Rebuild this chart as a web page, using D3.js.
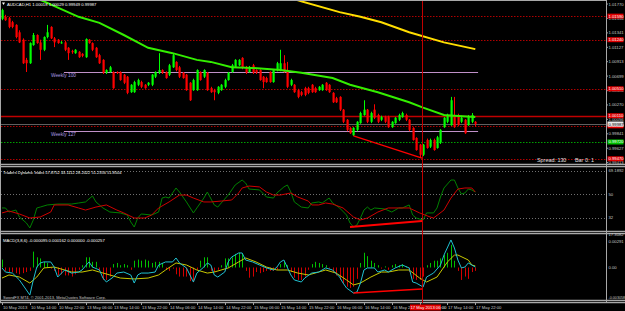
<!DOCTYPE html>
<html>
<head>
<meta charset="utf-8">
<script src="https://cdnjs.cloudflare.com/ajax/libs/d3/7.8.5/d3.min.js"></script>
<style>
  html, body { margin: 0; padding: 0; background: #000; }
  svg { display: block; }
  text { font-family: "Liberation Sans", Arial, sans-serif; }
</style>
</head>
<body>
<div id="chart"></div>
<script>
// ---- data (AUDCAD H1) ----
const timeLabels = ['10 May 2013', '10 May 14:00', '10 May 22:00', '13 May 06:00', '13 May 14:00', '13 May 22:00',
  '14 May 06:00', '14 May 14:00', '14 May 22:00', '15 May 06:00', '15 May 14:00', '15 May 22:00',
  '16 May 06:00', '16 May 14:00', '16 May 22:00', '17 May 06:00', '17 May 14:00', '17 May 22:00'];

const open = [1.0155, 1.0158, 1.0156, 1.0150, 1.0146, 1.0135, 1.0124, 1.0094, 1.0089, 1.0116,
  1.0131, 1.0120, 1.0109, 1.0128, 1.0143, 1.0126, 1.0124, 1.0119, 1.0120, 1.0112,
  1.0107, 1.0104, 1.0106, 1.0103, 1.0098, 1.0124, 1.0119, 1.0112, 1.0101, 1.0094,
  1.0075, 1.0076, 1.0076, 1.0076, 1.0076, 1.0072, 1.0069, 1.0046, 1.0046, 1.0057,
  1.0061, 1.0057, 1.0057, 1.0057, 1.0069, 1.0075, 1.0079, 1.0076, 1.0072, 1.0083,
  1.0091, 1.0083, 1.0075, 1.0072, 1.0060, 1.0049, 1.0049, 1.0076, 1.0069, 1.0075,
  1.0052, 1.0049, 1.0045, 1.0049, 1.0054, 1.0064, 1.0076, 1.0083, 1.0086, 1.0097,
  1.0083, 1.0076, 1.0086, 1.0079, 1.0079, 1.0069, 1.0067, 1.0076, 1.0061, 1.0079,
  1.0079, 1.0089, 1.0079, 1.0057, 1.0057, 1.0049, 1.0046, 1.0052, 1.0052, 1.0057,
  1.0052, 1.0049, 1.0049, 1.0060, 1.0057, 1.0045, 1.0037, 1.0039, 1.0020, 1.0005,
  0.9993, 0.9982, 0.9990, 1.0000, 1.0012, 1.0020, 1.0002, 1.0020, 1.0012, 1.0005,
  1.0009, 1.0009, 0.9994, 1.0000, 1.0005, 1.0009, 1.0012, 1.0005, 0.9993, 0.9978,
  0.9968, 0.9953, 0.9975, 0.9965, 0.9975, 0.9963, 0.9971, 0.9994, 1.0002, 0.9997,
  1.0012, 1.0012, 1.0002, 1.0005, 0.9997, 1.0002, 1.0002];
const high = [1.0170, 1.0161, 1.0158, 1.0152, 1.0147, 1.0138, 1.0126, 1.0097, 1.0120, 1.0134,
  1.0132, 1.0124, 1.0129, 1.0146, 1.0144, 1.0128, 1.0125, 1.0122, 1.0122, 1.0113,
  1.0109, 1.0110, 1.0107, 1.0104, 1.0126, 1.0125, 1.0120, 1.0113, 1.0103, 1.0095,
  1.0080, 1.0085, 1.0077, 1.0077, 1.0077, 1.0073, 1.0070, 1.0058, 1.0063, 1.0066,
  1.0063, 1.0058, 1.0061, 1.0073, 1.0077, 1.0104, 1.0080, 1.0077, 1.0088, 1.0104,
  1.0092, 1.0085, 1.0076, 1.0073, 1.0061, 1.0066, 1.0080, 1.0077, 1.0080, 1.0076,
  1.0054, 1.0051, 1.0055, 1.0058, 1.0066, 1.0076, 1.0088, 1.0095, 1.0095, 1.0098,
  1.0085, 1.0085, 1.0088, 1.0080, 1.0080, 1.0070, 1.0069, 1.0077, 1.0080, 1.0091,
  1.0109, 1.0101, 1.0091, 1.0066, 1.0058, 1.0051, 1.0048, 1.0054, 1.0054, 1.0058,
  1.0054, 1.0055, 1.0058, 1.0061, 1.0058, 1.0046, 1.0039, 1.0040, 1.0021, 1.0006,
  0.9994, 0.9994, 1.0003, 1.0017, 1.0034, 1.0021, 1.0017, 1.0028, 1.0014, 1.0011,
  1.0011, 1.0011, 1.0003, 1.0009, 1.0014, 1.0017, 1.0014, 1.0006, 0.9994, 0.9979,
  0.9969, 0.9969, 0.9977, 0.9977, 0.9977, 0.9981, 0.9991, 1.0009, 1.0014, 1.0039,
  1.0039, 1.0014, 1.0011, 1.0006, 1.0012, 1.0015, 1.0003];
const low = [1.0153, 1.0152, 1.0141, 1.0141, 1.0126, 1.0119, 1.0088, 1.0076, 1.0088, 1.0115,
  1.0118, 1.0094, 1.0107, 1.0126, 1.0125, 1.0113, 1.0118, 1.0118, 1.0107, 1.0094,
  1.0103, 1.0103, 1.0097, 1.0098, 1.0097, 1.0118, 1.0107, 1.0097, 1.0088, 1.0073,
  1.0073, 1.0075, 1.0051, 1.0073, 1.0063, 1.0058, 1.0043, 1.0045, 1.0045, 1.0055,
  1.0052, 1.0051, 1.0055, 1.0055, 1.0067, 1.0073, 1.0073, 1.0066, 1.0070, 1.0082,
  1.0077, 1.0067, 1.0066, 1.0048, 1.0033, 1.0048, 1.0048, 1.0063, 1.0067, 1.0048,
  1.0045, 1.0034, 1.0043, 1.0048, 1.0052, 1.0063, 1.0075, 1.0082, 1.0085, 1.0080,
  1.0073, 1.0075, 1.0073, 1.0073, 1.0063, 1.0052, 1.0060, 1.0060, 1.0060, 1.0077,
  1.0077, 1.0075, 1.0052, 1.0055, 1.0045, 1.0037, 1.0040, 1.0040, 1.0043, 1.0045,
  1.0045, 1.0048, 1.0048, 1.0048, 1.0045, 1.0030, 1.0030, 1.0018, 1.0000, 0.9988,
  0.9984, 0.9981, 0.9988, 0.9999, 1.0011, 1.0000, 1.0000, 1.0006, 1.0000, 1.0003,
  1.0000, 0.9993, 0.9993, 0.9999, 1.0003, 1.0008, 1.0003, 0.9988, 0.9974, 0.9959,
  0.9948, 0.9951, 0.9962, 0.9963, 0.9959, 0.9962, 0.9969, 0.9993, 1.0000, 0.9996,
  0.9993, 0.9996, 1.0000, 0.9984, 0.9996, 1.0000, 0.9995];
const close = [1.0168, 1.0153, 1.0143, 1.0143, 1.0128, 1.0120, 1.0089, 1.0089, 1.0119, 1.0131,
  1.0119, 1.0109, 1.0128, 1.0135, 1.0126, 1.0120, 1.0119, 1.0120, 1.0109, 1.0104,
  1.0106, 1.0109, 1.0098, 1.0100, 1.0125, 1.0119, 1.0109, 1.0098, 1.0089, 1.0075,
  1.0079, 1.0083, 1.0052, 1.0075, 1.0064, 1.0060, 1.0045, 1.0057, 1.0061, 1.0064,
  1.0054, 1.0052, 1.0060, 1.0072, 1.0076, 1.0079, 1.0075, 1.0067, 1.0086, 1.0101,
  1.0079, 1.0069, 1.0067, 1.0049, 1.0034, 1.0064, 1.0079, 1.0064, 1.0079, 1.0049,
  1.0046, 1.0046, 1.0054, 1.0057, 1.0064, 1.0075, 1.0086, 1.0094, 1.0094, 1.0082,
  1.0075, 1.0083, 1.0075, 1.0075, 1.0064, 1.0061, 1.0061, 1.0061, 1.0079, 1.0089,
  1.0089, 1.0076, 1.0054, 1.0064, 1.0046, 1.0039, 1.0042, 1.0042, 1.0045, 1.0046,
  1.0046, 1.0054, 1.0057, 1.0049, 1.0046, 1.0031, 1.0031, 1.0020, 1.0002, 0.9990,
  0.9985, 0.9993, 1.0002, 1.0015, 1.0020, 1.0002, 1.0015, 1.0008, 1.0002, 1.0009,
  1.0002, 0.9994, 1.0002, 1.0008, 1.0012, 1.0015, 1.0005, 0.9990, 0.9975, 0.9960,
  0.9953, 0.9968, 0.9963, 0.9975, 0.9960, 0.9979, 0.9990, 1.0008, 1.0012, 1.0034,
  0.9994, 0.9997, 1.0008, 0.9985, 1.0009, 1.0012, 0.9999];

// moving averages [bar, price]
const maGreen = [[8, 1.0189], [12, 1.0181], [22, 1.0158], [28, 1.0149], [35, 1.0131], [42, 1.0112],
  [49, 1.0104], [56, 1.0094], [60, 1.0091], [66, 1.0083], [72, 1.0082], [80, 1.0079], [86, 1.0075],
  [95, 1.0067], [100, 1.0057], [108, 1.0046], [117, 1.0031], [121, 1.0023], [127, 1.0012],
  [130, 1.0011], [136, 1.0009]];
const maYellow = [[83, 1.0186], [86, 1.0181], [97, 1.0165], [103, 1.0158], [109, 1.0150],
  [117, 1.0135], [127, 1.0120], [136, 1.0110]];

// horizontal levels
const redDotted = [1.0159, 1.0124, 1.0051, 0.9996, 0.9947];
const redSolid = [1.0011];
const greenDotted = [0.9972];
const weekly = [{ name: 'Weekly 100', price: 1.0076 }, { name: 'Weekly 127', price: 0.9988 }];
const bid = 0.99987;
const priceTicks = [1.01770, 1.01556, 1.01341, 1.01127, 1.00913, 1.00699, 1.00484, 1.00270,
  1.00056, 0.99841, 0.99627, 0.99413];

// Traders Dynamic Index [bar, value]
const tdiPrice = [[0, 39.3], [1, 39.3], [2, 36.2], [4, 37.7], [5, 32.4], [7, 27.8], [8, 24.0], [9, 30.1],
  [10, 39.3], [11, 40.0], [13, 41.6], [16, 42.3], [20, 42.3], [22, 43.1], [24, 43.9], [26, 48.5],
  [27, 43.9], [29, 39.3], [31, 36.2], [34, 35.5], [36, 33.9], [37, 28.6], [38, 24.7], [39, 31.6],
  [40, 34.7], [43, 33.9], [45, 36.2], [46, 46.9], [47, 47.7], [48, 46.9], [50, 54.6], [51, 51.5],
  [53, 43.9], [55, 35.5], [56, 39.3], [58, 46.9], [59, 51.5], [61, 41.6], [62, 40.0], [63, 43.1],
  [65, 49.2], [67, 56.9], [69, 60.7], [70, 58.4], [71, 53.8], [74, 53.1], [76, 47.7], [78, 46.9],
  [79, 50.8], [81, 55.4], [82, 56.9], [83, 51.5], [84, 43.9], [86, 40.0], [88, 39.3], [89, 43.1],
  [91, 43.9], [92, 43.1], [94, 46.9], [95, 43.1], [97, 39.3], [99, 33.9], [100, 27.8], [101, 24.7],
  [102, 26.3], [103, 31.6], [104, 37.7], [105, 40.0], [106, 37.7], [107, 39.3], [110, 38.5],
  [112, 36.2], [114, 39.3], [115, 39.3], [117, 41.6], [118, 33.9], [119, 31.6], [121, 30.1],
  [122, 35.5], [124, 35.5], [125, 39.3], [126, 47.7], [127, 54.6], [129, 60.7], [130, 60.7],
  [131, 54.6], [132, 50.0], [133, 50.8], [134, 53.8], [135, 53.1], [136, 51.5]];
const tdiSignal = [[0, 35.5], [2, 37.0], [5, 34.7], [8, 31.6], [11, 32.4], [14, 36.2], [15, 41.6],
  [19, 41.6], [22, 39.3], [24, 37.7], [27, 40.0], [30, 41.6], [33, 37.7], [35, 35.5], [38, 31.6],
  [41, 31.6], [43, 33.9], [45, 39.3], [48, 43.9], [51, 49.2], [53, 49.2], [55, 46.9], [58, 43.9],
  [60, 43.9], [63, 44.6], [66, 45.4], [68, 50.8], [69, 54.6], [71, 56.1], [74, 55.4], [76, 51.5],
  [78, 49.2], [80, 49.2], [83, 50.8], [85, 47.7], [88, 44.6], [89, 41.6], [91, 41.6], [93, 43.1],
  [95, 42.3], [98, 39.3], [101, 32.4], [103, 30.1], [105, 31.6], [108, 36.2], [111, 39.3],
  [114, 39.3], [117, 39.3], [120, 35.5], [123, 32.4], [124, 31.6], [127, 37.7], [129, 46.9],
  [131, 53.8], [133, 54.6], [135, 54.6], [136, 51.5]];
const tdiLevels = [68, 50, 32];
const tdiAxis = ['69.1892', '50', '32', '17.3082'];

// MACD(3,8,6)
const macdMain = [[0, -0.00004], [1, -0.00040], [3, -0.00049], [5, -0.00110], [7, -0.00198], [8, -0.00243],
  [9, -0.00110], [10, 0.00004], [11, 0.00040], [12, 0.00049], [14, 0.00049], [15, 0.00004],
  [16, -0.00084], [18, -0.00022], [20, -0.00049], [22, -0.00040], [23, -0.00022], [25, 0.00049],
  [26, 0.00004], [28, -0.00022], [29, -0.00093], [30, -0.00128], [32, -0.00084], [33, -0.00049],
  [35, -0.00040], [37, -0.00066], [38, -0.00137], [39, -0.00066], [40, -0.00049], [42, -0.00049],
  [44, -0.00040], [45, 0.00022], [47, 0.00049], [49, 0.00049], [50, 0.00084], [51, 0.00040],
  [53, -0.00004], [55, -0.00128], [56, -0.00049], [58, 0.00004], [59, 0.00040], [60, 0.00022],
  [61, -0.00066], [62, -0.00084], [64, -0.00040], [65, 0.00049], [66, 0.00093], [68, 0.00128],
  [69, 0.00128], [70, 0.00066], [72, 0.00049], [74, 0.00022], [76, -0.00004], [78, -0.00022],
  [79, 0.00004], [80, 0.00049], [81, 0.00066], [83, -0.00066], [84, -0.00110], [86, -0.00128],
  [87, -0.00093], [89, -0.00049], [91, -0.00040], [93, -0.00004], [95, -0.00022], [97, -0.00084],
  [98, -0.00137], [99, -0.00181], [101, -0.00225], [102, -0.00216], [103, -0.00137], [104, -0.00022],
  [105, -0.00004], [107, -0.00004], [108, -0.00040], [110, -0.00022], [111, -0.00040], [113, -0.00004],
  [115, 0.00022], [117, -0.00004], [118, -0.00128], [119, -0.00137], [121, -0.00172], [122, -0.00084],
  [124, -0.00049], [126, 0.00022], [127, 0.00110], [129, 0.00243], [130, 0.00172], [131, 0.00066],
  [132, -0.00004], [133, 0.00004], [134, 0.00040], [135, 0.00022], [136, 0.00004]];
const macdSignal = [[0, -0.00093], [2, -0.00066], [5, -0.00084], [8, -0.00137], [10, -0.00084],
  [12, -0.00004], [15, 0.00004], [18, -0.00022], [20, -0.00040], [23, -0.00040], [26, -0.00022],
  [28, -0.00040], [31, -0.00066], [34, -0.00093], [38, -0.00101], [42, -0.00093], [45, -0.00066],
  [47, -0.00022], [50, 0.00040], [53, 0.00022], [56, -0.00022], [59, -0.00049], [61, -0.00040],
  [65, -0.00004], [68, 0.00049], [70, 0.00084], [73, 0.00049], [76, 0.00004], [79, -0.00022],
  [82, -0.00022], [85, -0.00049], [88, -0.00066], [91, -0.00040], [93, -0.00022], [96, -0.00049],
  [99, -0.00110], [101, -0.00154], [103, -0.00137], [106, -0.00084], [109, -0.00040], [111, -0.00040],
  [114, -0.00022], [117, -0.00022], [120, -0.00093], [122, -0.00128], [125, -0.00084], [128, 0.00049],
  [130, 0.00110], [131, 0.00110], [134, 0.00066], [135, 0.00022], [136, 0.00013]];
const macdHist = [0.0007, -0.0003, -0.0004, -0.0004, -0.0005, -0.0006, -0.0005, -0.0004, -0.0003, 0.0014,
  0.0009, 0.0008, 0.0005, 0.0004, -0.0001, -0.0003, -0.0007, -0.0006, -0.0007, -0.0007,
  -0.0008, -0.0006, -0.0002, 0.0002, 0.0009, 0.0009, 0.0005, 0.0005, -0.0003, -0.0011,
  -0.0011, -0.0008, 0.0003, 0.0004, 0.0002, 0.0003, 0.0002, -0.0002, 0.0006, 0.0007,
  0.0006, 0.0007, 0.0006, 0.0004, 0.0005, 0.0005, 0.0004, -0.0002, -0.0003, -0.0001,
  -0.0006, -0.0008, -0.0008, -0.0008, -0.0012, -0.0013, -0.0002, 0.0006, 0.0009, 0.0009,
  -0.0003, -0.0004, -0.0002, 0.0002, 0.0008, 0.0008, 0.0009, 0.0012, 0.0013, 0.0012,
  -0.0003, -0.0009, -0.0008, -0.0004, -0.0005, -0.0004, -0.0003, -0.0003, -0.0003, -0.0002,
  0.0003, 0.0005, 0.0002, -0.0004, -0.0009, -0.0011, -0.0011, -0.0008, -0.0002, 0.0003,
  0.0005, 0.0004, 0.0003, 0.0002, -0.0001, -0.0004, -0.0007, -0.0011, -0.0014, -0.0017,
  -0.0018, -0.0017, -0.0010, 0.0004, 0.0013, 0.0010, 0.0006, 0.0004, 0.0002, -0.0001,
  0.0001, -0.0002, 0.0002, 0.0003, 0.0002, 0.0003, 0.0001, -0.0004, -0.0010, -0.0011,
  -0.0011, -0.0008, 0.0002, 0.0004, 0.0006, 0.0006, 0.0008, 0.0011, 0.0013, 0.0020,
  0.0006, -0.0003, -0.0011, -0.0008, -0.0010, -0.0004, -0.0003];
const macdAxis = ['0.00291', '0.00', '-0.003058'];

// divergence trendlines [bar, value]
const trendMain = [[101, 0.9981], [120.7, 0.9948]];
const trendTdi = [[100, 24.7], [120.7, 29.3]];
const trendMacd = [[101, -0.00225], [120.7, -0.0019]];
const cursorBar = 120.7;

// ---- layout ----
const W = 625, H = 311;
const PLOT_R = 606;
const FONT = 4.2;
const AXIS_TXT = '#c8c8c8';

const svg = d3.select('#chart').append('svg')
  .attr('width', W).attr('height', H)
  .style('background', '#000');

const x = d3.scaleLinear().domain([0, 136]).range([2, 475.3]);
const yMain = d3.scaleLinear().domain([0.9940, 1.0183]).range([163.5, 0]);
const yTdi = d3.scaleLinear().domain([32, 68]).range([217.5, 170.5]);
const yMacd = d3.scaleLinear().domain([-0.003, 0.003]).range([301.5, 233.5]);

// clip paths per panel
const defs = svg.append('defs');
[['clipMain', 1, 163.5], ['clipTdi', 168.5, 230.5], ['clipMacd', 233.5, 299.5]].forEach(([id, y0, y1]) => {
  defs.append('clipPath').attr('id', id)
    .append('rect').attr('x', 1).attr('y', y0).attr('width', PLOT_R - 1).attr('height', y1 - y0);
});

// frame
const frame = svg.append('g').attr('stroke', '#a8a8a8');
frame.append('line').attr('x1', 0.5).attr('x2', 0.5).attr('y1', 0).attr('y2', 302);
frame.append('line').attr('x1', 0).attr('x2', PLOT_R).attr('y1', 0.5).attr('y2', 0.5);
frame.append('line').attr('x1', PLOT_R + 0.5).attr('x2', PLOT_R + 0.5).attr('y1', 0).attr('y2', 302);
[164, 231, 300].forEach((yy) => {
  frame.append('line').attr('x1', 0).attr('x2', W).attr('y1', yy + 0.5).attr('y2', yy + 0.5)
    .attr('stroke-width', 1.4);
  frame.append('line').attr('x1', 0).attr('x2', W).attr('y1', yy + 2.6).attr('y2', yy + 2.6)
    .attr('stroke-width', 1.4);
});

// ---- main panel ----
const main = svg.append('g').attr('clip-path', 'url(#clipMain)');

function hline(g, yv, color, dash, width) {
  g.append('line')
    .attr('x1', 1).attr('x2', PLOT_R)
    .attr('y1', Math.round(yv) + 0.5).attr('y2', Math.round(yv) + 0.5)
    .attr('stroke', color).attr('stroke-width', width || 1)
    .attr('stroke-dasharray', dash || null);
}

redDotted.forEach(p => hline(main, yMain(p), '#b00000', '1.5,1.5'));
greenDotted.forEach(p => hline(main, yMain(p), '#00a000', '1.5,1.5'));
redSolid.forEach(p => hline(main, yMain(p), '#c00000', null, 1.3));
hline(main, yMain(bid), '#606060');

weekly.forEach((w) => {
  const yy = Math.round(yMain(w.price)) + 0.5;
  main.append('line').attr('x1', x(17.8)).attr('x2', x(136.8)).attr('y1', yy).attr('y2', yy)
    .attr('stroke', '#c090c8');
  main.append('text').attr('x', 51).attr('y', yy + 4.5)
    .attr('fill', '#a898e0').attr('font-size', FONT + 0.6).text(w.name);
});

// candles
const bars = d3.range(open.length).map(i => ({
  i, o: open[i], h: high[i], l: low[i], c: close[i],
}));
const candle = main.selectAll('g.candle').data(bars).enter().append('g');
candle.append('line')
  .attr('x1', d => Math.round(x(d.i)) + 0.5).attr('x2', d => Math.round(x(d.i)) + 0.5)
  .attr('y1', d => yMain(d.h)).attr('y2', d => yMain(d.l))
  .attr('stroke', d => (d.c >= d.o ? '#00ff00' : '#ff0000'));
candle.append('rect')
  .attr('x', d => Math.round(x(d.i)) - 0.5)
  .attr('width', 2.2)
  .attr('y', d => yMain(Math.max(d.o, d.c)))
  .attr('height', d => Math.max(1, yMain(Math.min(d.o, d.c)) - yMain(Math.max(d.o, d.c))))
  .attr('fill', d => (d.c >= d.o ? '#00ff00' : '#ff0000'));

const lineFn = ys => d3.line().x(d => x(d[0])).y(d => ys(d[1]));

main.append('path').datum(maGreen).attr('d', lineFn(yMain)).attr('fill', 'none')
  .attr('stroke', '#33ee00').attr('stroke-width', 2);
main.append('path').datum(maYellow).attr('d', lineFn(yMain)).attr('fill', 'none')
  .attr('stroke', '#ffdd00').attr('stroke-width', 2);
main.append('path').datum(trendMain).attr('d', lineFn(yMain)).attr('fill', 'none')
  .attr('stroke', '#ff0000').attr('stroke-width', 1.2);

main.append('path').attr('d', 'M2,2.5 L5,2.5 L3.5,5 Z').attr('fill', '#fff');
main.append('text').attr('x', 7).attr('y', 6).attr('fill', '#fff').attr('font-size', FONT)
  .text('AUDCAD,H1  1.00018 1.00029 0.99949 0.99987');
main.append('text').attr('x', 537).attr('y', 161.5).attr('fill', '#e0e0e0').attr('font-size', 5.4)
  .text('Spread: 130');
main.append('text').attr('x', 575).attr('y', 161.5).attr('fill', '#e0e0e0').attr('font-size', 5.4)
  .text('Bar 0:  1');

// ---- TDI panel ----
const tdi = svg.append('g').attr('clip-path', 'url(#clipTdi)');
tdiLevels.forEach(v => hline(tdi, yTdi(v), '#707070', '1,2'));
tdi.append('path').datum(tdiPrice).attr('d', lineFn(yTdi)).attr('fill', 'none')
  .attr('stroke', '#008000').attr('stroke-width', 1);
tdi.append('path').datum(tdiSignal).attr('d', lineFn(yTdi)).attr('fill', 'none')
  .attr('stroke', '#d00000').attr('stroke-width', 1);
tdi.append('path').datum(trendTdi).attr('d', lineFn(yTdi)).attr('fill', 'none')
  .attr('stroke', '#ff0000').attr('stroke-width', 2);
tdi.append('text').attr('x', 3).attr('y', 173.5).attr('fill', '#fff').attr('font-size', 4)
  .text('Traders Dynamic Index 57.8752 43.1112 28.2022 51.2356 51.8504');

// ---- MACD panel ----
const macd = svg.append('g').attr('clip-path', 'url(#clipMacd)');
macd.selectAll('line.hist').data(macdHist).enter().append('line')
  .attr('x1', (d, i) => Math.round(x(i)) + 0.5).attr('x2', (d, i) => Math.round(x(i)) + 0.5)
  .attr('y1', yMacd(0)).attr('y2', d => yMacd(d))
  .attr('stroke', d => (d >= 0 ? '#00c000' : '#d00000')).attr('stroke-width', 1);
macd.append('path').datum(macdSignal).attr('d', lineFn(yMacd)).attr('fill', 'none')
  .attr('stroke', '#c8c800').attr('stroke-width', 1);
macd.append('path').datum(macdMain).attr('d', lineFn(yMacd)).attr('fill', 'none')
  .attr('stroke', '#20c0d0').attr('stroke-width', 1);
macd.append('path').datum(trendMacd).attr('d', lineFn(yMacd)).attr('fill', 'none')
  .attr('stroke', '#ff0000').attr('stroke-width', 1.5);
macd.append('text').attr('x', 3).attr('y', 242).attr('fill', '#fff').attr('font-size', FONT)
  .text('MACD(3,8,6) -0.000095 0.000162 0.000000 -0.000257');
macd.append('text').attr('x', 3).attr('y', 299).attr('fill', '#c8c8c8').attr('font-size', 4)
  .text('SwordFX MT4, © 2001-2013, MetaQuotes Software Corp.');

// cursor line
svg.append('line').attr('x1', Math.round(x(cursorBar)) + 0.5).attr('x2', Math.round(x(cursorBar)) + 0.5)
  .attr('y1', 1).attr('y2', 303).attr('stroke', '#c00000');

// ---- right axes ----
const ax = svg.append('g').attr('font-size', FONT);
priceTicks.forEach((p) => {
  const yy = yMain(p);
  ax.append('line').attr('x1', PLOT_R).attr('x2', PLOT_R + 2).attr('y1', yy).attr('y2', yy).attr('stroke', '#a0a0a0');
  ax.append('text').attr('x', PLOT_R + 2.5).attr('y', yy + 1.5).attr('fill', AXIS_TXT)
    .text(p.toFixed(5));
});

function tag(yv, label, bg, fg) {
  ax.append('rect').attr('x', PLOT_R + 1.5).attr('y', yv - 2.5).attr('width', 16).attr('height', 5).attr('fill', bg);
  ax.append('text').attr('x', PLOT_R + 2.5).attr('y', yv + 1.5).attr('fill', fg).text(label);
}
redDotted.concat(redSolid).forEach(p => tag(yMain(p), p.toFixed(5), '#e00000', '#fff'));
greenDotted.forEach(p => tag(yMain(p), p.toFixed(5), '#00c000', '#fff'));
tag(yMain(bid), bid.toFixed(5), '#e8e8e8', '#000');

[170.5, yTdi(50), yTdi(32), 234].forEach((yy, k) => {
  ax.append('text').attr('x', PLOT_R + 2.5).attr('y', yy + 1.5).attr('fill', AXIS_TXT).text(tdiAxis[k]);
});
[241.5, yMacd(0), 297].forEach((yy, k) => {
  ax.append('text').attr('x', PLOT_R + 2.5).attr('y', yy + 1.5).attr('fill', AXIS_TXT)
    .attr('font-size', k === 2 ? 3.7 : FONT).text(macdAxis[k]);
});

// ---- time axis ----
timeLabels.forEach((t, k) => {
  const bi = k * 8;
  const xx = Math.round(x(bi)) + 0.5;
  ax.append('line').attr('x1', xx).attr('x2', xx).attr('y1', 303).attr('y2', 305).attr('stroke', '#a0a0a0');
  if (bi !== 120) {
    ax.append('text').attr('x', xx + 0.5).attr('y', 309).attr('fill', AXIS_TXT).text(t);
  }
});
const cx = Math.round(x(cursorBar));
ax.append('rect').attr('x', cx - 12).attr('y', 304.5).attr('width', 31).attr('height', 6).attr('fill', '#e00000');
ax.append('text').attr('x', cx - 11.5).attr('y', 309).attr('fill', '#fff').text('17 May 2013 06:00');
</script>
</body>
</html>
